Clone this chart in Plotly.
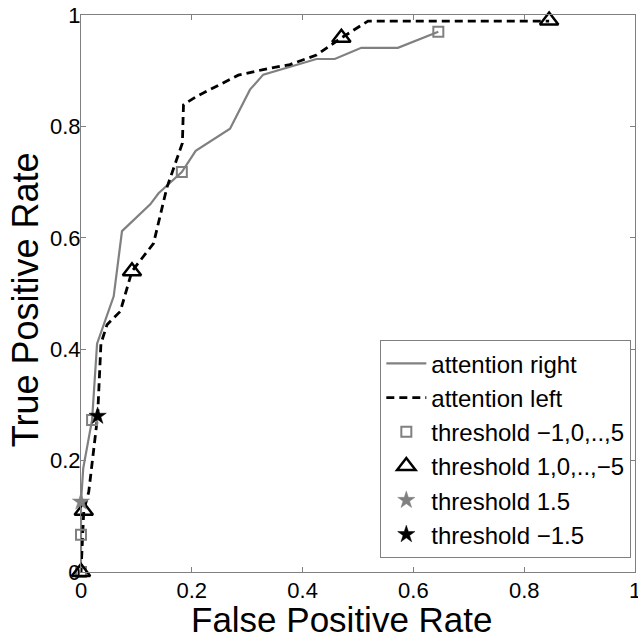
import plotly.graph_objects as go

# ROC curve data
right_fpr = [0, 0, 0, 0.004, 0.02, 0.029, 0.059, 0.074, 0.101, 0.125, 0.14, 0.161, 0.182,
             0.207, 0.269, 0.305, 0.329, 0.425, 0.458, 0.506, 0.572, 0.645]
right_tpr = [0, 0.067, 0.126, 0.186, 0.273, 0.41, 0.495, 0.612, 0.638, 0.66, 0.68, 0.699, 0.718,
             0.756, 0.796, 0.866, 0.893, 0.921, 0.921, 0.941, 0.941, 0.97]

left_fpr = [0, 0.005, 0.014, 0.023, 0.03, 0.036, 0.047, 0.071, 0.092, 0.131, 0.155, 0.183, 0.185,
            0.209, 0.284, 0.329, 0.377, 0.425, 0.47, 0.518, 0.845]
left_tpr = [0, 0.11, 0.144, 0.219, 0.28, 0.41, 0.444, 0.468, 0.54, 0.59, 0.69, 0.77, 0.839,
            0.854, 0.892, 0.902, 0.911, 0.928, 0.959, 0.989, 0.989]

sq_fpr = [0, 0, 0.02, 0.182, 0.645]
sq_tpr = [0, 0.067, 0.273, 0.718, 0.97]

tri_fpr = [0, 0.005, 0.092, 0.47, 0.845]
tri_tpr = [0, 0.11, 0.54, 0.959, 0.99]

star_gray_fpr = [0]
star_gray_tpr = [0.126]
star_black_fpr = [0.03]
star_black_tpr = [0.28]

tick_vals = [0, 0.2, 0.4, 0.6, 0.8, 1]
tick_text = ["0", "0.2", "0.4", "0.6", "0.8", "1"]

x_title = "False Positive Rate"
y_title = "True Positive Rate"

GRAY = "#808080"
FONT = "Liberation Sans, Arial, sans-serif"

fig = go.Figure()
fig.add_trace(go.Scatter(x=right_fpr, y=right_tpr, mode="lines", name="attention right",
                         line=dict(color=GRAY, width=2.2), cliponaxis=False))
fig.add_trace(go.Scatter(x=left_fpr, y=left_tpr, mode="lines", name="attention left",
                         line=dict(color="black", width=2.8, dash="8px,5px"), cliponaxis=False))
fig.add_trace(go.Scatter(x=sq_fpr, y=sq_tpr, mode="markers", name="threshold \u22121,0,..,5",
                         marker=dict(symbol="square-open", size=10, color=GRAY,
                                     line=dict(color=GRAY, width=2)), cliponaxis=False))
fig.add_trace(go.Scatter(x=tri_fpr, y=tri_tpr, mode="markers", name="threshold 1,0,..,\u22125",
                         marker=dict(symbol="triangle-up-open", size=16, color="black",
                                     line=dict(color="black", width=2.5)), cliponaxis=False))
fig.add_trace(go.Scatter(x=star_gray_fpr, y=star_gray_tpr, mode="markers", name="threshold 1.5",
                         marker=dict(symbol="star", size=13, color=GRAY,
                                     line=dict(color=GRAY, width=0.5)), cliponaxis=False))
fig.add_trace(go.Scatter(x=star_black_fpr, y=star_black_tpr, mode="markers", name="threshold \u22121.5",
                         marker=dict(symbol="star", size=13, color="black",
                                     line=dict(color="black", width=0.5)), cliponaxis=False))

axis_common = dict(
    range=[0, 1], tickvals=tick_vals, ticktext=tick_text,
    ticks="inside", ticklen=5, tickcolor=GRAY, tickwidth=1,
    showline=True, linecolor=GRAY, linewidth=1.2, mirror="ticks",
    showgrid=False, zeroline=False, ticklabeloverflow="allow",
    tickfont=dict(family=FONT, size=22, color="black"),
)

fig.update_layout(
    width=638, height=636,
    margin=dict(l=81, r=3, t=15, b=64, autoexpand=False),
    paper_bgcolor="white", plot_bgcolor="white",
    font=dict(family=FONT, color="black"),
    xaxis=dict(**axis_common, ticklabelstandoff=-2),
    yaxis=dict(**axis_common, ticklabelstandoff=-5),
    legend=dict(x=0.993, y=0.025, xanchor="right", yanchor="bottom",
                bgcolor="white", bordercolor=GRAY, borderwidth=1.2,
                font=dict(family=FONT, size=24, color="black"),
                tracegroupgap=0, itemwidth=40),
    showlegend=True,
    annotations=[
        dict(text=x_title, xref="paper", yref="paper", x=0.472, y=-0.086,
             xanchor="center", yanchor="middle", showarrow=False,
             font=dict(family=FONT, size=35, color="black")),
        dict(text=y_title, xref="paper", yref="paper", x=-0.101, y=0.488,
             xanchor="center", yanchor="middle", showarrow=False, textangle=-90,
             font=dict(family=FONT, size=36, color="black")),
    ],
)

fig.write_html("out.html", config={"displayModeBar": False},
               post_script="document.body.style.margin='0';document.body.style.overflow='hidden';")
